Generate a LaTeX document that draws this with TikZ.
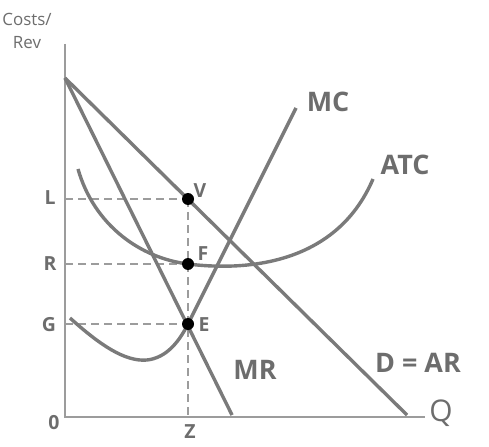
\documentclass[tikz,border=0pt]{standalone}
\usepackage{fontspec}
\setmainfont{Open Sans}
\begin{document}
\begin{tikzpicture}[x=1bp,y=-1bp,
  curve/.style={draw=curvegray,line width=3.4bp},
  axis/.style={draw=axisgray,line width=2.2bp},
  guide/.style={draw=axisgray,line width=2bp,dash pattern=on 8bp off 5bp},
  dotpt/.style={circle,fill=black,inner sep=0pt,minimum size=12bp},
  biglab/.style={text=labgray,font=\fontsize{27}{30}\selectfont\bfseries,inner sep=0pt},
  smalllab/.style={text=labgray,font=\fontsize{19.5}{22}\selectfont\bfseries,inner sep=0pt},
  reglab/.style={text=labgray,font=\fontsize{17}{23}\selectfont,inner sep=0pt,align=center}]
\definecolor{curvegray}{HTML}{7A7A7A}
\definecolor{axisgray}{HTML}{9C9C9C}
\definecolor{labgray}{HTML}{6D6D6D}
\path[use as bounding box] (0,0) rectangle (489,447);

% coordinates
\coordinate (top) at (65,44);
\coordinate (origin) at (65,417);
\coordinate (xend) at (425,417);
\coordinate (A) at (65,78);
\coordinate (Dend) at (407,415);
\coordinate (MRend) at (232,415);
\coordinate (MCend) at (296,108);
\coordinate (Lax) at (65,199);
\coordinate (Rax) at (65,264);
\coordinate (Gax) at (65,324);
\coordinate (Zax) at (188,417);

% axes
\draw[axis] (top) -- (origin) -- (xend);

% dashed guides
\draw[guide] (Lax) -- (188,199);
\draw[guide] (Rax) -- (188,264);
\draw[guide] (Gax) -- (188,324);
\draw[guide] (188,199) -- (Zax);

% curves
\draw[curve] (A) -- (Dend);
\draw[curve] (A) -- (MRend);
\draw[curve] (78,169) .. controls (94,225) and (140,258) .. (188,264)
   .. controls (240,270.5) and (335,268) .. (373,179);
\draw[curve] (70,318) .. controls (100,345) and (125,362) .. (147,360)
   .. controls (165,358) and (178,344) .. (188,324) -- (MCend);

% points
\node[dotpt] (V) at (188,199) {};
\node[dotpt] (F) at (188,264) {};
\node[dotpt] (E) at (188,324) {};

% labels
\node[reglab] (costs) at (27,31) {Costs/\\Rev};
\node[smalllab] (lL) at (50,198) {L};
\node[smalllab] (lR) at (50,264) {R};
\node[smalllab] (lG) at (49,325) {G};
\node[smalllab] (l0) at (54,423) {0};
\node[smalllab] (lZ) at (190,432) {Z};
\node[smalllab] (lV) at (200,191) {V};
\node[smalllab] (lF) at (203,254) {F};
\node[smalllab] (lE) at (204,325) {E};
\node[biglab] (lMC) at (328,102) {MC};
\node[biglab] (lATC) at (405,165) {ATC};
\node[biglab] (lMR) at (255,370) {MR};
\node[biglab] (lD) at (418,363) {D = AR};
\node[text=labgray,font=\fontsize{30}{32}\selectfont,inner sep=0pt] (lQ) at (441,413) {Q};
\end{tikzpicture}
\end{document}
